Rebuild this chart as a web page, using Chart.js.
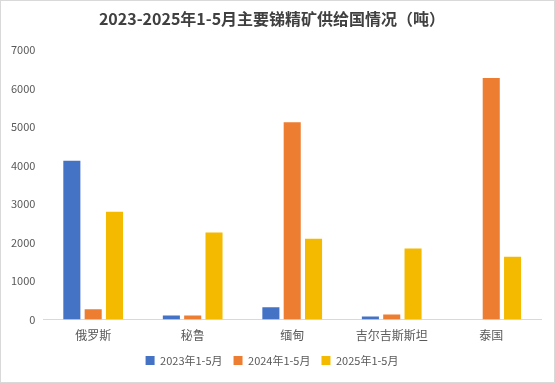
<!DOCTYPE html>
<html><head><meta charset="utf-8">
<script src="https://cdn.jsdelivr.net/npm/chart.js@4/dist/chart.umd.min.js"></script>
<style>
html,body{margin:0;padding:0;background:#fff;}
#wrap{width:555px;height:383px;box-sizing:border-box;border:1px solid #d9d9d9;position:relative;}
canvas{display:block;}
</style></head><body>
<div id="wrap"><canvas id="c" width="553" height="381"></canvas></div>
<script>
const categories = ["俄罗斯","秘鲁","缅甸","吉尔吉斯斯坦","泰国"];
const seriesNames = ["2023年1-5月","2024年1-5月","2025年1-5月"];
const s2023 = [4130, 105, 320, 80, 0];
const s2024 = [270, 105, 5130, 130, 6280];
const s2025 = [2800, 2260, 2100, 1850, 1630];
const colors = ["#4472C4","#ED7D31","#F4BA00"];
const titleText = "2023-2025年1-5月主要锑精矿供给国情况（吨）";

const fontFam = "'Noto Sans CJK SC','Noto Sans',sans-serif";
new Chart(document.getElementById('c'), {
  type: 'bar',
  data: {
    labels: categories,
    datasets: [s2023, s2024, s2025].map((d, i) => ({
      label: seriesNames[i], data: d, backgroundColor: colors[i],
      categoryPercentage: 0.643, barPercentage: 0.8
    }))
  },
  options: {
    responsive: false, animation: false,
    layout: { padding: { left: 2, right: 13, top: 4, bottom: 6 } },
    plugins: {
      title: { display: true, text: titleText, color: '#404040',
        font: { family: fontFam, size: 16, weight: 'bold' }, padding: { top: 4, bottom: 22 } },
      legend: { position: 'bottom',
        labels: { color: '#595959', boxWidth: 9, boxHeight: 9, padding: 11,
          font: { family: fontFam, size: 11 } } },
      tooltip: { enabled: false }
    },
    scales: {
      x: { grid: { display: false }, border: { color: '#d9d9d9', width: 1 },
        ticks: { color: '#595959', font: { family: fontFam, size: 12 }, padding: 1 } },
      y: { min: 0, max: 7000, grid: { display: false, drawTicks: false }, border: { display: false },
        ticks: { stepSize: 1000, color: '#595959', font: { family: fontFam, size: 11 }, padding: 8,
          callback: v => String(v) } }
    }
  }
});
</script></body></html>
